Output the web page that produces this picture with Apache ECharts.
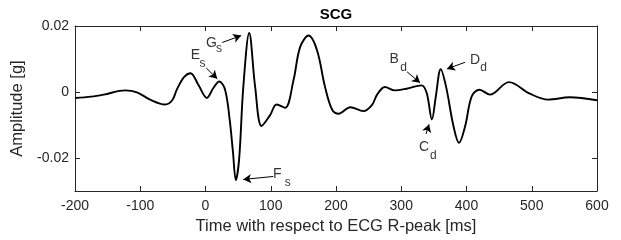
<!DOCTYPE html>
<html>
<head>
<meta charset="utf-8">
<script src="https://cdn.jsdelivr.net/npm/echarts@6/dist/echarts.min.js"></script>
<style>
  html, body { margin: 0; padding: 0; background: #fff; }
  #chart { width: 621px; height: 240px; }
</style>
</head>
<body>
<div id="chart"></div>
<script>
// time [ms] and amplitude [g]
const timeMs = [-200, -175, -156, -123, -105, -85, -62, -51, -44, -33, -23, -11, 2, 12, 21, 30, 37, 42, 46.5, 51.6, 58, 67, 76, 86, 99, 109, 122, 135, 145, 158, 171, 183, 194, 204, 222, 242, 255, 263, 275, 290, 308, 331, 339, 347, 353, 360.5, 368.6, 380, 388.5, 398, 408, 420, 436, 465, 497, 525, 558, 600];
const amplitude = [-0.0018, -0.0014, -0.0008, 0.0005, -0.0001, -0.0023, -0.0038, -0.0025, 0.0007, 0.0045, 0.0057, 0.0022, -0.0018, 0.0012, 0.0032, 0.0007, -0.0083, -0.018, -0.0267, -0.0202, 0.0017, 0.0179, 0.0017, -0.0103, -0.0070, -0.0038, -0.0048, 0.0037, 0.0136, 0.0171, 0.0126, 0.0017, -0.0053, -0.0066, -0.0046, -0.0058, -0.0040, -0.0008, 0.0015, 0.0005, 0.0010, 0.0020, -0.0003, -0.0083, -0.0013, 0.0069, 0.0017, -0.0103, -0.0154, -0.0103, -0.0013, 0.0007, -0.0008, 0.0030, -0.0005, -0.0023, -0.0016, -0.0025];

const xTicks = [-200, -100, 0, 100, 200, 300, 400, 500, 600];
const yTicks = [-0.02, 0, 0.02];

// annotation letters, their subscripts and arrows (data coordinates)
const labelNames = ['G', 'E', 'F', 'B', 'D', 'C'];
const labelPos = [[9, 0.0147], [-15.6, 0.0111], [110, -0.025], [289, 0.0099], [413, 0.0096], [335, -0.0166]];
const subNames = ['s', 's', 's', 'd', 'd', 'd'];
const subPos = [[20.5, 0.0130], [-4.5, 0.0086], [126, -0.0274], [303.5, 0.0075], [426, 0.0075], [349, -0.0193]];
const arrowFrom = [[25.6, 0.0150], [1.1, 0.0073], [103.8, -0.0256], [309, 0.0061], [397.7, 0.0090], [338, -0.0127]];
const arrowTo = [[54.7, 0.0171], [18, 0.0040], [57.8, -0.0265], [328.8, 0.0028], [370, 0.0070], [342.6, -0.0098]];

const axisColor = '#262626';
const font = 'Liberation Sans, Arial, Helvetica, sans-serif';

const chart = echarts.init(document.getElementById('chart'));

const xBase = {
  type: 'value', min: -200, max: 600, interval: 100,
  axisLine: { show: true, onZero: false, lineStyle: { color: axisColor, width: 1 } },
  axisTick: { show: true, inside: true, length: 5, lineStyle: { color: axisColor } },
  splitLine: { show: false }
};
const yBase = {
  type: 'value', min: -0.03, max: 0.02,
  axisLine: { show: true, onZero: false, lineStyle: { color: axisColor, width: 1 } },
  axisTick: { show: true, inside: true, length: 5, customValues: yTicks, lineStyle: { color: axisColor } },
  splitLine: { show: false }
};

const option = {
  animation: false,
  title: {
    text: 'SCG', left: 336, top: 7, padding: 0, textAlign: 'center',
    textStyle: { fontFamily: font, fontSize: 15, fontWeight: 'bold', color: '#000' }
  },
  grid: { left: 75, right: 24, top: 26, bottom: 48 },
  xAxis: [
    Object.assign({}, xBase, {
      position: 'bottom',
      name: 'Time with respect to ECG R-peak [ms]',
      nameLocation: 'middle', nameGap: 27,
      nameTextStyle: { fontFamily: font, fontSize: 16.5, color: '#262626' },
      axisLabel: { show: true, margin: 8, fontFamily: font, fontSize: 14, color: '#262626' }
    }),
    Object.assign({}, xBase, { position: 'top', axisLabel: { show: false } })
  ],
  yAxis: [
    Object.assign({}, yBase, {
      position: 'left',
      name: 'Amplitude [g]',
      nameLocation: 'middle', nameGap: 43,
      nameTextStyle: { fontFamily: font, fontSize: 16.5, color: '#262626' },
      axisLabel: {
        show: true, margin: 6, customValues: yTicks, fontFamily: font, fontSize: 14, color: '#262626',
        formatter: v => (Math.abs(v) < 1e-9 ? '0' : String(+v.toFixed(3)))
      }
    }),
    Object.assign({}, yBase, { position: 'right', axisLabel: { show: false } })
  ],
  series: [
    {
      type: 'line',
      data: timeMs.map((t, i) => [t, amplitude[i]]),
      smooth: 0.35,
      symbol: 'none',
      lineStyle: { color: '#000', width: 1.9 },
      markLine: {
        silent: true,
        symbol: ['none', 'arrow'],
        symbolSize: [7, 8],
        label: { show: false },
        lineStyle: { color: '#000', width: 1, type: 'solid' },
        data: arrowFrom.map((p, i) => [{ coord: p }, { coord: arrowTo[i] }])
      }
    },
    {
      type: 'scatter',
      symbolSize: 1,
      itemStyle: { color: 'transparent' },
      silent: true,
      label: { show: true, position: 'inside', formatter: p => p.name, fontFamily: font, fontSize: 14, color: '#000' },
      data: labelNames.map((n, i) => ({ name: n, value: labelPos[i] }))
    },
    {
      type: 'scatter',
      symbolSize: 1,
      itemStyle: { color: 'transparent' },
      silent: true,
      label: { show: true, position: 'inside', formatter: p => p.name, fontFamily: font, fontSize: 12, color: '#000' },
      data: subNames.map((n, i) => ({ name: n, value: subPos[i] }))
    }
  ]
};

chart.setOption(option);
</script>
</body>
</html>
